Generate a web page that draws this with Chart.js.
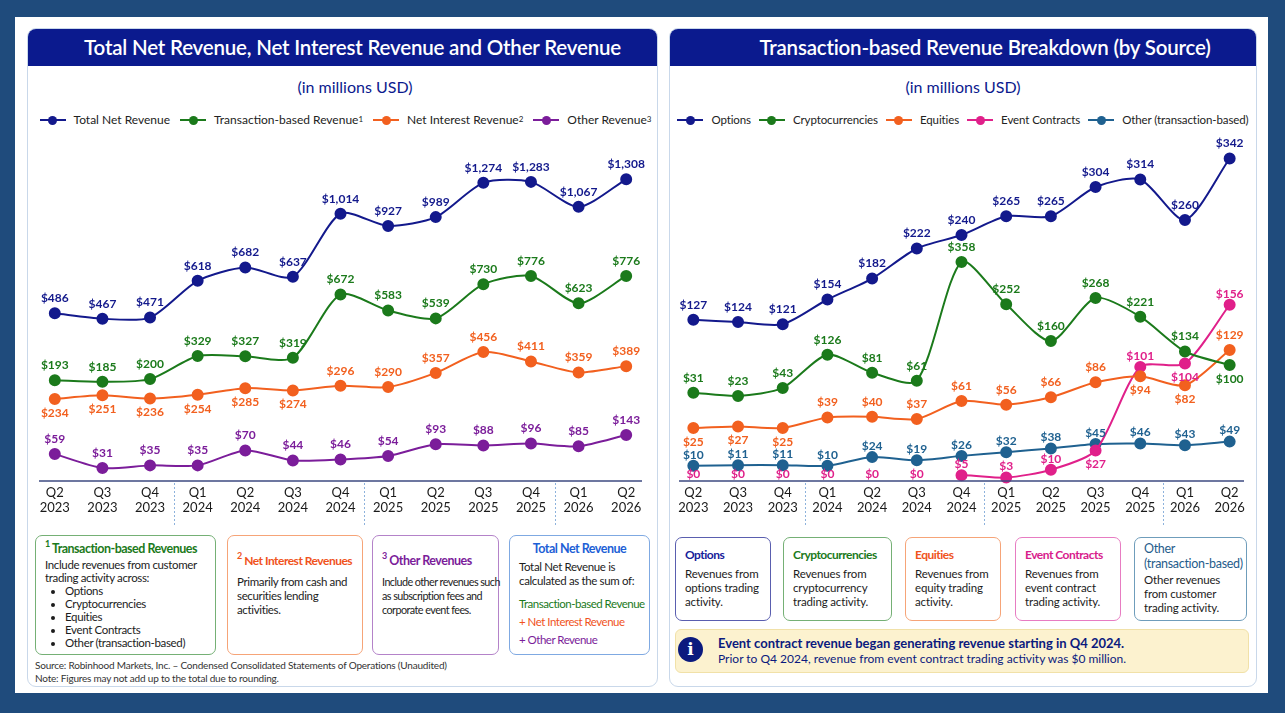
<!DOCTYPE html>
<html lang="en">
<head>
<meta charset="UTF-8">
<title>Robinhood net revenue by quarter</title>
<script src="https://cdn.jsdelivr.net/npm/chart.js@4"></script>
<style>
  body {
    margin: 0;
    width: 1285px;
    height: 713px;
    background: #1f4b7c;
    font-family: Lato, "Open Sans", sans-serif;
    color: #1c1c1c;
    position: relative;
    overflow: hidden;
  }
  .abs { position: absolute; }
  #card { left: 15px; top: 17px; width: 1253px; height: 676px; background: #fff; }
  .panel {
    top: 28px; height: 659px;
    border: 1px solid #c9d8ea;
    border-radius: 9px;
    box-sizing: border-box;
    overflow: hidden;
    background: #fff;
  }
  .panel .head {
    height: 37px;
    background: #0b1a8e;
    color: #fff;
    font-size: 20.5px;
    font-weight: 600;
    line-height: 37px;
    text-align: center;
    letter-spacing: -0.2px;
  }
  .sub { top: 77px; height: 20px; line-height: 20px; font-size: 16px; color: #0b1a8e; text-align: center; }
  .legend {
    top: 112px; height: 16px; line-height: 16px;
    display: flex; justify-content: center;
    font-size: 12px; color: #222; white-space: nowrap;
  }
  .legend .li { display: inline-flex; align-items: center; }
  .legend .li i {
    display: inline-block; position: relative;
    width: 26px; height: 2px; background: var(--c); margin-right: 8px;
  }
  .legend .li i::after {
    content: ""; position: absolute; left: 8.5px; top: -3.5px;
    width: 9px; height: 9px; border-radius: 50%; background: var(--c);
  }
  .legend sup { font-size: 8px; line-height: 0; position: relative; top: -1px; }
  canvas { position: absolute; }
  .box {
    position: absolute;
    border: 1.3px solid;
    border-radius: 7px;
    box-sizing: border-box;
    background: #fff;
    padding: 0 9px;
    white-space: nowrap;
  }
  .box .t { font-weight: 700; font-size: 12.5px; line-height: 16px; letter-spacing: -0.5px; }
  .box .t sup { font-size: 9px; line-height: 0; position: relative; top: -1px; }
  .box .b { font-size: 11.5px; line-height: 13px; letter-spacing: -0.35px; }
  .box ul { margin: 0; padding-left: 20px; }
  .rbox .t { font-size: 12px; }
  .rbox .b { font-size: 11.5px; line-height: 14px; letter-spacing: -0.15px; }
  .foot { left: 35px; font-size: 10px; color: #333; letter-spacing: -0.2px; white-space: nowrap; }
  #info {
    position: absolute;
    left: 675px; top: 629px; width: 574px; height: 44px;
    background: #fcf2cf; border: 1px solid #f1e1a8; border-radius: 6px; box-sizing: border-box;
  }
  #info .ic {
    position: absolute; left: 2px; top: 7px; width: 25px; height: 25px; border-radius: 50%;
    background: #0b1a7e; color: #fff; font: bold 17px "DejaVu Serif", serif;
    text-align: center; line-height: 25px;
  }
  #info .l1 { position: absolute; left: 42px; top: 5px; font-size: 13px; font-weight: 700; color: #0b1a7e; white-space: nowrap; }
  #info .l2 { position: absolute; left: 42px; top: 21px; font-size: 12px; color: #0b1a7e; white-space: nowrap; }
</style>
</head>
<body>
<div id="card" class="abs"></div>

<div class="abs panel" style="left:27px;width:631px;">
  <div class="head" style="padding-left:20px;">Total Net Revenue, Net Interest Revenue and Other Revenue</div>
</div>
<div class="abs panel" style="left:669px;width:588px;">
  <div class="head" style="padding-left:44px;">Transaction-based Revenue Breakdown (by Source)</div>
</div>

<div class="abs sub" style="left:40px;width:630px;">(in millions USD)</div>
<div class="abs sub" style="left:669px;width:588px;">(in millions USD)</div>

<div class="abs legend" id="legendLeft" style="left:30px;width:631px;gap:10px;"></div>
<div class="abs legend" id="legendRight" style="left:669px;width:588px;gap:8px;font-size:11.5px;letter-spacing:-0.1px;"></div>

<canvas id="chartLeft" width="633" height="400" style="left:24px;top:130px;width:633px;height:400px;"></canvas>
<canvas id="chartRight" width="595" height="400" style="left:664px;top:130px;width:595px;height:400px;"></canvas>

<!-- notes under left chart -->
<div class="box" style="left:35px;top:535px;width:181px;height:120px;border-color:#75b075;padding-top:5px;">
  <div class="t" style="color:#1b7a1b;"><sup>1</sup> Transaction-based Revenues</div>
  <div class="b" style="margin-top:1px;">Include revenues from customer<br>trading activity across:</div>
  <ul class="b">
    <li>Options</li><li>Cryptocurrencies</li><li>Equities</li><li>Event Contracts</li><li>Other (transaction-based)</li>
  </ul>
</div>
<div class="box" style="left:227px;top:535px;width:136px;height:120px;border-color:#f6a478;padding-top:17px;">
  <div class="t" style="color:#f0531c;font-size:12px;"><sup>2</sup> Net Interest Revenues</div>
  <div class="b" style="margin-top:6px;line-height:14px;">Primarily from cash and<br>securities lending<br>activities.</div>
</div>
<div class="box" style="left:372px;top:535px;width:127px;height:120px;border-color:#b483c9;padding-top:17px;">
  <div class="t" style="color:#7b1d9a;"><sup>3</sup> Other Revenues</div>
  <div class="b" style="margin-top:6px;line-height:14px;font-size:10.8px;letter-spacing:-0.55px;">Include other revenues such<br>as subscription fees and<br>corporate event fees.</div>
</div>
<div class="box" style="left:509px;top:535px;width:141px;height:120px;border-color:#7fa9e2;padding-top:5px;">
  <div class="t" style="color:#1d5fd6;text-align:center;">Total Net Revenue</div>
  <div class="b" style="margin-top:3px;line-height:14px;">Total Net Revenue is<br>calculated as the sum of:</div>
  <div class="b" style="margin-top:7px;line-height:18px;letter-spacing:-0.5px;">
    <div style="color:#1b7a1b;">Transaction-based Revenue</div>
    <div style="color:#f0531c;">+ Net Interest Revenue</div>
    <div style="color:#7b1d9a;">+ Other Revenue</div>
  </div>
</div>
<div class="abs foot" style="top:659px;">Source: Robinhood Markets, Inc. – Condensed Consolidated Statements of Operations (Unaudited)</div>
<div class="abs foot" style="top:672px;">Note: Figures may not add up to the total due to rounding.</div>

<!-- notes under right chart -->
<div class="box rbox" style="left:675px;top:537px;width:96px;height:84px;border-color:#5a5eaf;padding-top:9px;">
  <div class="t" style="color:#16219a;">Options</div>
  <div class="b" style="margin-top:4px;">Revenues from<br>options trading<br>activity.</div>
</div>
<div class="box rbox" style="left:783px;top:537px;width:109px;height:84px;border-color:#75b075;padding-top:9px;">
  <div class="t" style="color:#1b7a1b;">Cryptocurrencies</div>
  <div class="b" style="margin-top:4px;">Revenues from<br>cryptocurrency<br>trading activity.</div>
</div>
<div class="box rbox" style="left:905px;top:537px;width:96px;height:84px;border-color:#f6a478;padding-top:9px;">
  <div class="t" style="color:#f0531c;">Equities</div>
  <div class="b" style="margin-top:4px;">Revenues from<br>equity trading<br>activity.</div>
</div>
<div class="box rbox" style="left:1015px;top:537px;width:106px;height:84px;border-color:#e77cc2;padding-top:9px;">
  <div class="t" style="color:#d81b8c;">Event Contracts</div>
  <div class="b" style="margin-top:4px;">Revenues from<br>event contract<br>trading activity.</div>
</div>
<div class="box rbox" style="left:1134px;top:537px;width:113px;height:84px;border-color:#6f9dbb;padding-top:3px;">
  <div class="t" style="color:#1f5d8c;font-weight:400;font-size:12.5px;line-height:15px;letter-spacing:-0.3px;">Other<br>(transaction-based)</div>
  <div class="b" style="margin-top:2px;">Other revenues<br>from customer<br>trading activity.</div>
</div>
<div id="info">
  <div class="ic">i</div>
  <div class="l1">Event contract revenue began generating revenue starting in Q4 2024.</div>
  <div class="l2">Prior to Q4 2024, revenue from event contract trading activity was $0 million.</div>
</div>

<script>
  // quarters (two-line tick labels)
  const quarters = [
    ['Q2','2023'], ['Q3','2023'], ['Q4','2023'],
    ['Q1','2024'], ['Q2','2024'], ['Q3','2024'], ['Q4','2024'],
    ['Q1','2025'], ['Q2','2025'], ['Q3','2025'], ['Q4','2025'],
    ['Q1','2026'], ['Q2','2026']
  ];

  // left chart, millions USD
  const totalNetRevenue    = [486, 467, 471, 618, 682, 637, 1014, 927, 989, 1274, 1283, 1067, 1308];
  const transactionRevenue = [193, 185, 200, 329, 327, 319, 672, 583, 539, 730, 776, 623, 776];
  const netInterestRevenue = [234, 251, 236, 254, 285, 274, 296, 290, 357, 456, 411, 359, 389];
  const otherRevenue       = [59, 31, 35, 35, 70, 44, 46, 54, 93, 88, 96, 85, 143];

  // right chart, millions USD
  const optionsRevenue   = [127, 124, 121, 154, 182, 222, 240, 265, 265, 304, 314, 260, 342];
  const cryptoRevenue    = [31, 23, 43, 126, 81, 61, 358, 252, 160, 268, 221, 134, 100];
  const equitiesRevenue  = [25, 27, 25, 39, 40, 37, 61, 56, 66, 86, 94, 82, 129];
  const eventRevenue     = [0, 0, 0, 0, 0, 0, 5, 3, 10, 27, 101, 104, 156];
  const otherTxRevenue   = [10, 11, 11, 10, 24, 19, 26, 32, 38, 45, 46, 43, 49];

  const leftNames  = ['Total Net Revenue', 'Transaction-based Revenue', 'Net Interest Revenue', 'Other Revenue'];
  const leftSups   = ['', '1', '2', '3'];
  const rightNames = ['Options', 'Cryptocurrencies', 'Equities', 'Event Contracts', 'Other (transaction-based)'];

  const NAVY = '#13198c', GREEN = '#1b7a1b', ORANGE = '#f2601f', PURPLE = '#7b1d9a', PINK = '#e0208a', TEAL = '#1f6190';

  // where each value label sits: a = above, b = below, z = on the baseline
  const niLabelPos     = ['b','b','b','b','b','b','a','a','a','a','a','a','a'];
  const cryptoLabelPos = ['a','a','a','a','a','a','a','a','a','a','a','a','b'];
  const equityLabelPos = ['b','b','b','a','a','a','a','a','a','a','b','b','a'];
  const eventLabelPos  = ['z','z','z','z','z','z','a','a','a','b','a','b','a'];

  Chart.defaults.font.family = 'Lato, "Open Sans", sans-serif';

  function buildLegend(id, names, colors, sups) {
    const el = document.getElementById(id);
    names.forEach((n, i) => {
      const item = document.createElement('span');
      item.className = 'li';
      item.innerHTML = `<i style="--c:${colors[i]}"></i>${n}${sups && sups[i] ? '<sup>' + sups[i] + '</sup>' : ''}`;
      el.appendChild(item);
    });
  }
  buildLegend('legendLeft', leftNames, [NAVY, GREEN, ORANGE, PURPLE], leftSups);
  buildLegend('legendRight', rightNames, [NAVY, GREEN, ORANGE, PINK, TEAL]);

  const valueLabels = {
    id: 'valueLabels',
    afterDatasetsDraw(chart) {
      const ctx = chart.ctx;
      ctx.save();
      ctx.font = 'bold 12px Lato, "Open Sans", sans-serif';
      ctx.textAlign = 'center';
      ctx.textBaseline = 'middle';
      chart.data.datasets.forEach((ds, i) => {
        const gap = ds.labelGap || 15;
        chart.getDatasetMeta(i).data.forEach((pt, j) => {
          const pos = ds.labelPos ? ds.labelPos[j] : 'a';
          const dy = pos === 'b' ? 14 : pos === 'z' ? -7 : -gap;
          ctx.fillStyle = ds.borderColor;
          ctx.fillText('$' + ds.data[j].toLocaleString('en-US'), pt.x, pt.y + dy);
        });
      });
      ctx.restore();
    }
  };

  // base line plus dotted dividers between years
  const axisDecor = {
    id: 'axisDecor',
    afterDraw(chart) {
      const ctx = chart.ctx, x = chart.scales.x, area = chart.chartArea;
      ctx.save();
      ctx.strokeStyle = '#3c4a80';
      ctx.lineWidth = 1.5;
      ctx.beginPath();
      ctx.moveTo(area.left + 8, area.bottom);
      ctx.lineTo(area.right - 8, area.bottom);
      ctx.stroke();
      ctx.strokeStyle = '#8db2dc';
      ctx.lineWidth = 1;
      ctx.setLineDash([2, 2]);
      quarters.forEach((q, i) => {
        if (i === 0 || q[0] !== 'Q1') return;
        const px = Math.round((x.getPixelForValue(i - 1) + x.getPixelForValue(i)) / 2) + 0.5;
        ctx.beginPath();
        ctx.moveTo(px, area.bottom + 2);
        ctx.lineTo(px, area.bottom + 44);
        ctx.stroke();
      });
      ctx.restore();
    }
  };

  function series(label, data, color, axis, extra) {
    return Object.assign({
      label, data, yAxisID: axis,
      borderColor: color, backgroundColor: color,
      pointBackgroundColor: color, pointBorderColor: color,
      borderWidth: 2, pointRadius: 5, pointHoverRadius: 5,
      tension: 0.25, clip: false
    }, extra || {});
  }

  const xScale = {
    offset: true,
    grid: { display: false },
    border: { display: false },
    ticks: { color: '#1a1a1a', font: { size: 13, lineHeight: 1.12 }, padding: -3, maxRotation: 0, autoSkip: false },
    afterFit: s => { s.height = 49; }
  };
  const hidden = (type, min, max) => ({ type, min, max, display: false });

  function makeChart(id, datasets, yScales) {
    return new Chart(document.getElementById(id), {
      type: 'line',
      data: { labels: quarters, datasets },
      options: {
        responsive: false,
        animation: false,
        layout: { padding: { top: 10 } },
        plugins: { legend: { display: false }, tooltip: { enabled: false } },
        scales: Object.assign({ x: xScale }, yScales)
      },
      plugins: [axisDecor, valueLabels]
    });
  }

  // each series keeps its own hidden vertical scale, as in the original layout
  makeChart('chartLeft', [
    series(leftNames[0], totalNetRevenue, NAVY, 'yTotal'),
    series(leftNames[1], transactionRevenue, GREEN, 'yTx'),
    series(leftNames[2], netInterestRevenue, ORANGE, 'yNi', { labelPos: niLabelPos }),
    series(leftNames[3], otherRevenue, PURPLE, 'yOther')
  ], {
    yTotal: hidden('logarithmic', 140.9, 1748),
    yTx:    hidden('linear', -369, 1535),
    yNi:    hidden('linear', -153.5, 1457),
    yOther: hidden('logarithmic', 16.97, 1.233e8)
  });

  makeChart('chartRight', [
    series(rightNames[0], optionsRevenue, NAVY, 'yOpt'),
    series(rightNames[1], cryptoRevenue, GREEN, 'yCrypto', { labelPos: cryptoLabelPos }),
    series(rightNames[2], equitiesRevenue, ORANGE, 'yEq', { labelPos: equityLabelPos }),
    series(rightNames[3], eventRevenue, PINK, 'yEvent', {
      labelPos: eventLabelPos,
      labelGap: 11,
      pointRadius: c => (c.raw === 0 ? 0 : 5),
      segment: { borderColor: c => (c.p0.parsed.y === 0 ? 'rgba(0,0,0,0)' : undefined) }
    }),
    series(rightNames[4], otherTxRevenue, TEAL, 'yOtherTx', { labelGap: 11 })
  ], {
    yOpt:     hidden('linear', -88, 366.7),
    yCrypto:  hidden('linear', -189.75, 662.75),
    yEq:      hidden('linear', -45.67, 409),
    yEvent:   hidden('linear', 0, 301.8),
    yOtherTx: hidden('linear', -14.52, 535.5)
  });
</script>
</body>
</html>
